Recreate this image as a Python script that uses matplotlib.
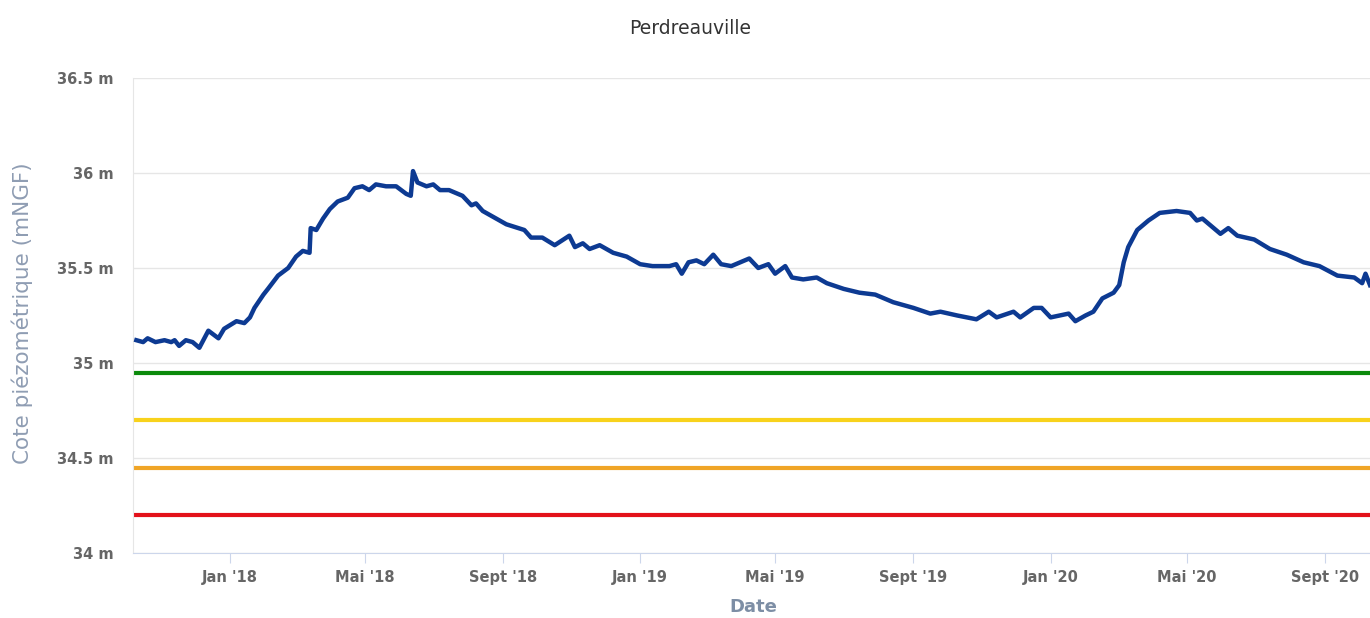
import matplotlib
matplotlib.use("Agg")
import matplotlib.pyplot as plt
import pandas as pd

TITLE = "Perdreauville"
Y_TITLE = "Cote piézométrique (mNGF)"
X_TITLE = "Date"

# niveaux (m NGF)
DATES = [
    "2017-10-10", "2017-10-16", "2017-10-20", "2017-10-27", "2017-11-04", "2017-11-10",
    "2017-11-13", "2017-11-17", "2017-11-23", "2017-11-29", "2017-12-05", "2017-12-13",
    "2017-12-22", "2017-12-27", "2018-01-07", "2018-01-14", "2018-01-19", "2018-01-23",
    "2018-01-31", "2018-02-04", "2018-02-13", "2018-02-22", "2018-03-01", "2018-03-07",
    "2018-03-13", "2018-03-14", "2018-03-19", "2018-03-25", "2018-03-31", "2018-04-07",
    "2018-04-16", "2018-04-22", "2018-04-29", "2018-05-05", "2018-05-11", "2018-05-20",
    "2018-05-29", "2018-06-07", "2018-06-11", "2018-06-13", "2018-06-17", "2018-06-25",
    "2018-07-01", "2018-07-07", "2018-07-15", "2018-07-27", "2018-08-04", "2018-08-08",
    "2018-08-14", "2018-08-23", "2018-09-04", "2018-09-20", "2018-09-26", "2018-10-06",
    "2018-10-17", "2018-10-30", "2018-11-04", "2018-11-11", "2018-11-17", "2018-11-26",
    "2018-12-08", "2018-12-20", "2019-01-01", "2019-01-12", "2019-01-27", "2019-02-02",
    "2019-02-07", "2019-02-13", "2019-02-20", "2019-02-27", "2019-03-07", "2019-03-14",
    "2019-03-23", "2019-04-04", "2019-04-08", "2019-04-16", "2019-04-25", "2019-05-01",
    "2019-05-10", "2019-05-16", "2019-05-26", "2019-06-07", "2019-06-16", "2019-07-01",
    "2019-07-15", "2019-07-29", "2019-08-14", "2019-09-01", "2019-09-16", "2019-09-25",
    "2019-10-10", "2019-10-27", "2019-11-07", "2019-11-14", "2019-11-29", "2019-12-05",
    "2019-12-17", "2019-12-24", "2020-01-01", "2020-01-09", "2020-01-17", "2020-01-23",
    "2020-02-01", "2020-02-08", "2020-02-16", "2020-02-26", "2020-03-02", "2020-03-06",
    "2020-03-10", "2020-03-18", "2020-03-28", "2020-04-07", "2020-04-22", "2020-05-04",
    "2020-05-10", "2020-05-15", "2020-05-25", "2020-05-31", "2020-06-07", "2020-06-15",
    "2020-06-30", "2020-07-14", "2020-07-29", "2020-08-13", "2020-08-27", "2020-09-12",
    "2020-09-27", "2020-10-04", "2020-10-07", "2020-10-11",
]
LEVELS = [
    35.12, 35.11, 35.13, 35.11, 35.12, 35.11,
    35.12, 35.09, 35.12, 35.11, 35.08, 35.17,
    35.13, 35.18, 35.22, 35.21, 35.24, 35.29,
    35.36, 35.39, 35.46, 35.50, 35.56, 35.59,
    35.58, 35.71, 35.70, 35.76, 35.81, 35.85,
    35.87, 35.92, 35.93, 35.91, 35.94, 35.93,
    35.93, 35.89, 35.88, 36.01, 35.95, 35.93,
    35.94, 35.91, 35.91, 35.88, 35.83, 35.84,
    35.80, 35.77, 35.73, 35.70, 35.66, 35.66,
    35.62, 35.67, 35.61, 35.63, 35.60, 35.62,
    35.58, 35.56, 35.52, 35.51, 35.51, 35.52,
    35.47, 35.53, 35.54, 35.52, 35.57, 35.52,
    35.51, 35.54, 35.55, 35.50, 35.52, 35.47,
    35.51, 35.45, 35.44, 35.45, 35.42, 35.39,
    35.37, 35.36, 35.32, 35.29, 35.26, 35.27,
    35.25, 35.23, 35.27, 35.24, 35.27, 35.24,
    35.29, 35.29, 35.24, 35.25, 35.26, 35.22,
    35.25, 35.27, 35.34, 35.37, 35.41, 35.53,
    35.61, 35.70, 35.75, 35.79, 35.80, 35.79,
    35.75, 35.76, 35.71, 35.68, 35.71, 35.67,
    35.65, 35.60, 35.57, 35.53, 35.51, 35.46,
    35.45, 35.42, 35.47, 35.41,
]

# seuils (vigilance / alerte / alerte renforcée / crise)
THRESHOLDS = [34.95, 34.70, 34.45, 34.20]
THRESHOLD_COLORS = ["#0b8a0b", "#f8d21c", "#f0a526", "#e3111a"]

X_RANGE = ["2017-10-07", "2020-10-11"]
TICK_DATES = ["2018-01-01", "2018-05-01", "2018-09-01", "2019-01-01", "2019-05-01",
              "2019-09-01", "2020-01-01", "2020-05-01", "2020-09-01"]
TICK_LABELS = ["Jan '18", "Mai '18", "Sept '18", "Jan '19", "Mai '19",
               "Sept '19", "Jan '20", "Mai '20", "Sept '20"]
Y_TICKS = [34, 34.5, 35, 35.5, 36, 36.5]
Y_LABELS = ["34 m", "34.5 m", "35 m", "35.5 m", "36 m", "36.5 m"]

W, H = 1370, 618


def main() -> None:
    fig = plt.figure(figsize=(W / 100, H / 100), dpi=100)
    ax = fig.add_axes([133 / W, 1 - 553 / H, (W - 133) / W, (553 - 78) / H])

    dates = pd.to_datetime(DATES)
    for level, color in zip(THRESHOLDS, THRESHOLD_COLORS):
        ax.axhline(level, color=color, lw=3.0, zorder=2)
    ax.plot(dates, LEVELS, color="#0d3a92", lw=3.2, zorder=3,
            solid_joinstyle="round")

    ax.set_xlim(pd.to_datetime(X_RANGE[0]), pd.to_datetime(X_RANGE[1]))
    ax.set_ylim(Y_TICKS[0], Y_TICKS[-1])
    ax.set_yticks(Y_TICKS)
    ax.set_yticklabels(Y_LABELS)
    ax.set_xticks(pd.to_datetime(TICK_DATES))
    ax.set_xticklabels(TICK_LABELS)

    ax.grid(axis="y", color="#e6e6e6", lw=1.0, zorder=0)
    ax.tick_params(axis="y", length=0, pad=14, labelsize=10.5, labelcolor="#666666")
    ax.tick_params(axis="x", length=7, width=0.8, color="#ccd6eb", pad=5,
                   labelsize=10.5, labelcolor="#666666")
    for lab in ax.get_xticklabels() + ax.get_yticklabels():
        lab.set_fontweight("bold")

    for side in ("top", "right"):
        ax.spines[side].set_visible(False)
    ax.spines["left"].set_color("#e6e6e6")
    ax.spines["bottom"].set_color("#ccd6eb")

    fig.text(690 / W, 1 - 28 / H, TITLE, ha="center", va="center",
             fontsize=13.5, color="#333333")
    fig.text(22 / W, 1 - 313 / H, Y_TITLE, rotation=90, ha="center",
             va="center", fontsize=15.5, color="#8f9db3")
    fig.text(753 / W, 1 - 607 / H, X_TITLE, ha="center", va="center",
             fontsize=13, fontweight="bold", color="#7d8ea5")

    fig.savefig("out.png", dpi=100)
    plt.close(fig)


if __name__ == "__main__":
    main()
